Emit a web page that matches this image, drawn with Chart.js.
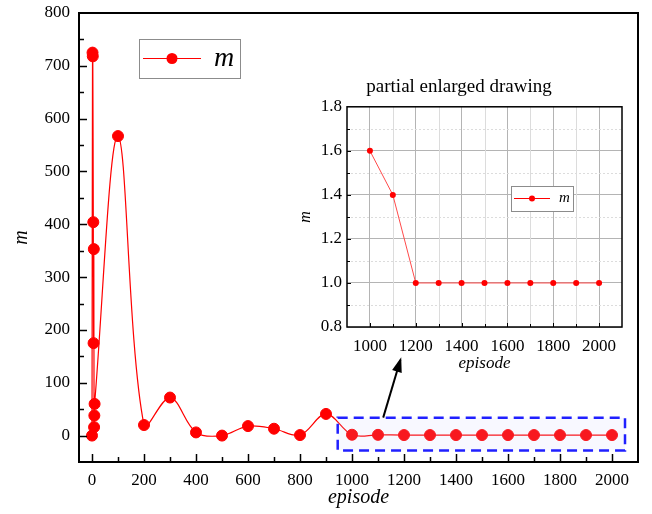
<!DOCTYPE html>
<html>
<head>
<meta charset="utf-8">
<script src="https://cdn.jsdelivr.net/npm/chart.js@4.4.1/dist/chart.umd.min.js"></script>
<style>
  html, body { margin: 0; padding: 0; background: #fff; }
  #wrap { position: relative; width: 652px; height: 514px; }
  #main { position: absolute; left: 0; top: 0; }
  #inset { position: absolute; left: 296px; top: 68px; }
</style>
</head>
<body>
<div id="wrap">
  <canvas id="main" width="652" height="514"></canvas>
  <canvas id="inset" width="340" height="310"></canvas>
</div>
<script>
// main series: episode -> m
const episodes = [0, 2, 3, 5, 6, 7, 8, 9, 10,
  100, 200, 300, 400, 500, 600, 700, 800, 900,
  1000, 1100, 1200, 1300, 1400, 1500, 1600, 1700, 1800, 1900, 2000];
const mValues = [0, 725, 718, 404, 175, 353, 16, 38, 60,
  567, 20, 72, 6, 0, 18, 13, 1, 41,
  1.6, 1.4, 1, 1, 1, 1, 1, 1, 1, 1, 1];

// inset (partial enlarged drawing)
const insetEpisodes = [1000, 1100, 1200, 1300, 1400, 1500, 1600, 1700, 1800, 1900, 2000];
const insetValues = [1.6, 1.4, 1.0, 1.0, 1.0, 1.0, 1.0, 1.0, 1.0, 1.0, 1.0];

// tick labels
const mainXTicks = [0, 200, 400, 600, 800, 1000, 1200, 1400, 1600, 1800, 2000];
const mainYTicks = [0, 100, 200, 300, 400, 500, 600, 700, 800];
const insetXTicks = [1000, 1200, 1400, 1600, 1800, 2000];
const insetYTicks = [0.8, 1.0, 1.2, 1.4, 1.6, 1.8];

const SERIF = "'Liberation Serif', 'Times New Roman', serif";
const RED = '#ff0000';
Chart.defaults.font.family = SERIF;
Chart.defaults.color = '#000';

function pts(xs, ys) { return xs.map((x, i) => ({x: x, y: ys[i]})); }

// frame + inward ticks (major and minor)
function frameTicks(opts) {
  return {
    id: 'frameTicks',
    afterDraw(chart) {
      const {ctx, chartArea: a, scales: {x, y}} = chart;
      ctx.save();
      ctx.strokeStyle = '#000';
      ctx.lineWidth = opts.tickWidth;
      for (let v = opts.xFrom; v <= opts.xTo + 1e-9; v += opts.xStep) {
        const px = Math.round(x.getPixelForValue(v)) + 0.5;
        const major = Math.abs(v / opts.xMajor - Math.round(v / opts.xMajor)) < 1e-6;
        const len = major ? opts.major : opts.minor;
        ctx.beginPath(); ctx.moveTo(px, a.bottom); ctx.lineTo(px, a.bottom - len); ctx.stroke();
      }
      for (let v = opts.yFrom; v <= opts.yTo + 1e-9; v += opts.yStep) {
        const py = Math.round(y.getPixelForValue(v)) + 0.5;
        const major = Math.abs(v / opts.yMajor - Math.round(v / opts.yMajor)) < 1e-6;
        const len = major ? opts.major : opts.minor;
        ctx.beginPath(); ctx.moveTo(a.left, py); ctx.lineTo(a.left + len, py); ctx.stroke();
      }
      ctx.lineWidth = opts.frame;
      ctx.strokeRect(a.left, a.top, a.right - a.left, a.bottom - a.top);
      ctx.restore();
    }
  };
}

// dashed box round the converged part, and the arrow to the inset
const zoomBox = {
  id: 'zoomBox',
  afterDatasetsDraw(chart) {
    const {ctx, scales: {x, y}} = chart;
    const x0 = x.getPixelForValue(945), x1 = x.getPixelForValue(2050);
    const y0 = y.getPixelForValue(34), y1 = y.getPixelForValue(-28);
    ctx.save();
    ctx.fillStyle = 'rgba(200,200,255,0.12)';
    ctx.fillRect(x0, y0, x1 - x0, y1 - y0);
    ctx.strokeStyle = '#2020ff';
    ctx.lineWidth = 2.5;
    ctx.setLineDash([10, 6]);
    ctx.strokeRect(x0, y0, x1 - x0, y1 - y0);
    ctx.setLineDash([]);
    // arrow
    const ax = x.getPixelForValue(1120), ay = y0;
    const bx = x.getPixelForValue(1186), by = y.getPixelForValue(143);
    ctx.strokeStyle = '#000';
    ctx.fillStyle = '#000';
    ctx.lineWidth = 2;
    ctx.beginPath(); ctx.moveTo(ax, ay); ctx.lineTo(bx, by); ctx.stroke();
    const ang = Math.atan2(by - ay, bx - ax);
    ctx.beginPath();
    ctx.moveTo(bx + 3 * Math.cos(ang), by + 3 * Math.sin(ang));
    ctx.lineTo(bx - 12 * Math.cos(ang) + 5 * Math.sin(ang), by - 12 * Math.sin(ang) - 5 * Math.cos(ang));
    ctx.lineTo(bx - 12 * Math.cos(ang) - 5 * Math.sin(ang), by - 12 * Math.sin(ang) + 5 * Math.cos(ang));
    ctx.closePath(); ctx.fill();
    ctx.restore();
  }
};

function legendBox(b) {
  return {
    id: 'legendBox',
    afterDraw(chart) {
      const ctx = chart.ctx;
      ctx.save();
      ctx.fillStyle = '#fff';
      ctx.fillRect(b.x, b.y, b.w, b.h);
      ctx.strokeStyle = '#8c8c8c';
      ctx.lineWidth = 1;
      ctx.strokeRect(b.x + 0.5, b.y + 0.5, b.w, b.h);
      const cy = b.y + b.h / 2;
      ctx.strokeStyle = RED;
      ctx.lineWidth = 1;
      ctx.beginPath(); ctx.moveTo(b.lx0, cy); ctx.lineTo(b.lx1, cy); ctx.stroke();
      ctx.fillStyle = RED;
      ctx.beginPath(); ctx.arc((b.lx0 + b.lx1) / 2, cy, b.r, 0, Math.PI * 2); ctx.fill();
      ctx.fillStyle = '#000';
      ctx.font = 'italic ' + b.font + 'px ' + SERIF;
      ctx.textBaseline = 'middle';
      ctx.fillText(chart.data.datasets[0].label, b.tx, cy);
      ctx.restore();
    }
  };
}

const plain = v => String(v);

new Chart(document.getElementById('main'), {
  type: 'line',
  data: {
    datasets: [{
      label: 'm',
      data: pts(episodes, mValues),
      borderColor: RED,
      backgroundColor: RED,
      borderWidth: 1.2,
      pointRadius: 5.5,
      pointBorderWidth: 1,
      tension: 0.35,
      fill: false
    }]
  },
  options: {
    animation: false,
    responsive: false,
    devicePixelRatio: 1,
    layout: { padding: { left: 0, right: 14, top: 13, bottom: 0 } },
    plugins: { legend: { display: false }, tooltip: { enabled: false } },
    scales: {
      x: {
        type: 'linear', min: -50, max: 2100,
        afterBuildTicks: s => { s.ticks = mainXTicks.map(v => ({value: v})); },
        afterFit: s => { s.height = 52; s.paddingLeft = 0; s.paddingRight = 0; },
        grid: { display: false, drawTicks: false },
        border: { display: false },
        ticks: { color: '#000', padding: 8, maxRotation: 0, autoSkip: false, callback: plain,
          font: { family: SERIF, size: 17 } },
        title: { display: true, text: 'episode', color: '#000', padding: { top: 0, bottom: 4 },
          font: { family: SERIF, size: 20, style: 'italic' } }
      },
      y: {
        type: 'linear', min: -50, max: 800,
        afterBuildTicks: s => { s.ticks = mainYTicks.map(v => ({value: v})); },
        afterFit: s => { s.width = 79; s.paddingTop = 0; s.paddingBottom = 0; },
        grid: { display: false, drawTicks: false },
        border: { display: false },
        ticks: { color: '#000', padding: 9, callback: plain, font: { family: SERIF, size: 17 } },
        title: { display: true, text: 'm', color: '#000', padding: { top: 10, bottom: 0 },
          font: { family: SERIF, size: 20, style: 'italic' } }
      }
    }
  },
  plugins: [
    zoomBox,
    frameTicks({ xFrom: 0, xTo: 2000, xStep: 100, xMajor: 200,
                 yFrom: 0, yTo: 750, yStep: 50, yMajor: 100,
                 major: 8, minor: 5, tickWidth: 1.5, frame: 2 }),
    legendBox({ x: 139, y: 39, w: 101, h: 39, lx0: 143, lx1: 201, r: 5.5, tx: 214, font: 28 })
  ]
});

// minor grid lines of the inset
const insetMinorGrid = {
  id: 'insetMinorGrid',
  beforeDatasetsDraw(chart) {
    const {ctx, chartArea: a, scales: {x, y}} = chart;
    ctx.save();
    ctx.lineWidth = 1;
    ctx.strokeStyle = '#dcdcdc';
    for (let v = 1100; v <= 2000; v += 200) {
      const px = Math.round(x.getPixelForValue(v)) + 0.5;
      ctx.beginPath(); ctx.moveTo(px, a.top); ctx.lineTo(px, a.bottom); ctx.stroke();
    }
    ctx.setLineDash([2, 2]);
    for (let v = 0.9; v < 1.8; v += 0.2) {
      const py = Math.round(y.getPixelForValue(v)) + 0.5;
      ctx.beginPath(); ctx.moveTo(a.left, py); ctx.lineTo(a.right, py); ctx.stroke();
    }
    ctx.restore();
  }
};

new Chart(document.getElementById('inset'), {
  type: 'line',
  data: {
    datasets: [{
      label: 'm',
      data: pts(insetEpisodes, insetValues),
      borderColor: '#ff4a4a',
      backgroundColor: RED,
      borderWidth: 1,
      pointRadius: 3,
      pointBorderWidth: 0,
      tension: 0,
      fill: false
    }]
  },
  options: {
    animation: false,
    responsive: false,
    devicePixelRatio: 1,
    layout: { padding: { left: 0, right: 14, top: 0, bottom: 0 } },
    plugins: {
      legend: { display: false },
      tooltip: { enabled: false },
      title: { display: true, text: 'partial enlarged drawing', color: '#000',
        padding: { top: 8, bottom: 8 }, font: { family: SERIF, size: 19, weight: 'normal' } }
    },
    scales: {
      x: {
        type: 'linear', min: 900, max: 2100,
        afterBuildTicks: s => { s.ticks = insetXTicks.map(v => ({value: v})); },
        afterFit: s => { s.height = 51; },
        grid: { color: '#b4b4b4', drawTicks: false },
        border: { display: false },
        ticks: { color: '#000', padding: 9, maxRotation: 0, autoSkip: false, callback: plain,
          font: { family: SERIF, size: 17 } },
        title: { display: true, text: 'episode', color: '#000', padding: { top: 0, bottom: 4 },
          font: { family: SERIF, size: 17, style: 'italic' } }
      },
      y: {
        type: 'linear', min: 0.8, max: 1.8,
        afterBuildTicks: s => { s.ticks = insetYTicks.map(v => ({value: v})); },
        afterFit: s => { s.width = 51; },
        grid: { color: '#b4b4b4', drawTicks: false },
        border: { display: false },
        ticks: { color: '#000', padding: 5, callback: v => v.toFixed(1), font: { family: SERIF, size: 17 } },
        title: { display: true, text: 'm', color: '#000', padding: { top: 0, bottom: 0 },
          font: { family: SERIF, size: 16, style: 'italic' } }
      }
    }
  },
  plugins: [
    insetMinorGrid,
    frameTicks({ xFrom: 1000, xTo: 2000, xStep: 100, xMajor: 200,
                 yFrom: 0.9, yTo: 1.7, yStep: 0.1, yMajor: 0.2,
                 major: 4, minor: 3, tickWidth: 1, frame: 1.5 }),
    legendBox({ x: 215, y: 118, w: 62, h: 25, lx0: 218, lx1: 254, r: 3, tx: 263, font: 15 })
  ]
});
</script>
</body>
</html>
